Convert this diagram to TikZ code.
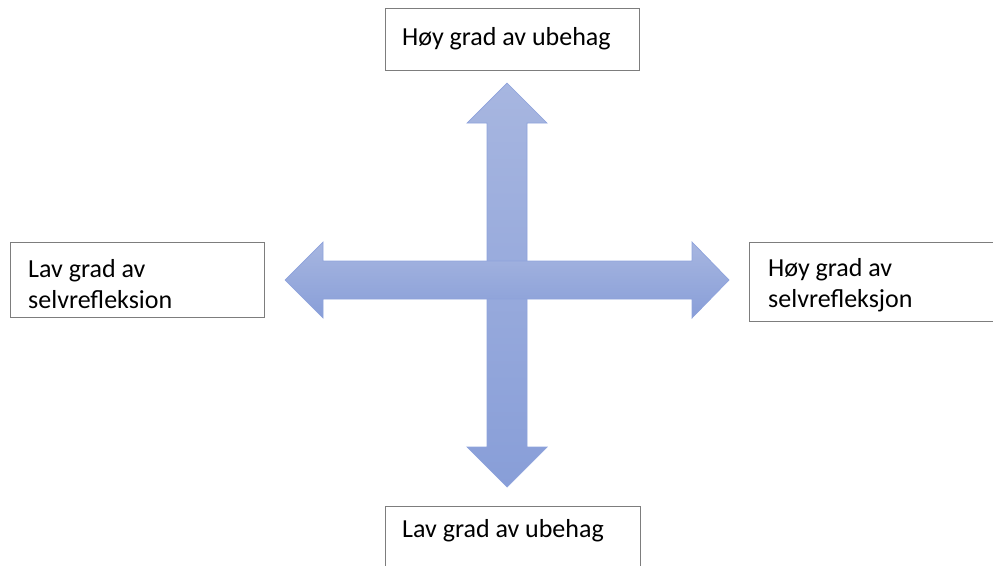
\documentclass[tikz,border=0pt]{standalone}
\usepackage{fontspec}
\setmainfont{Carlito}
\usetikzlibrary{positioning}
\definecolor{arrowtop}{RGB}{167,182,224}
\definecolor{arrowbot}{RGB}{136,158,216}
\definecolor{arrowedge}{RGB}{142,163,220}
\definecolor{boxedge}{RGB}{125,125,125}

\begin{document}
\begin{tikzpicture}[x=1pt, y=-1pt,
        box/.style={draw=boxedge, line width=0.9pt, rectangle, inner sep=0pt, anchor=north west},
        txt/.style={inner sep=0pt, anchor=base west, align=left, font=\fontsize{26}{31}\selectfont},
        fatarrow/.style={top color=arrowtop, bottom color=arrowbot, draw=arrowedge, line width=0.7pt, line join=miter}]
    \useasboundingbox (0,0) rectangle (993,565);
    \clip (0,0) rectangle (993,565);

    % the two crossing arrows
    \draw[fatarrow] (507,83) -- (547,123) -- (527,123) -- (527,447) -- (547,447) -- (507,487)
        -- (467,447) -- (487,447) -- (487,123) -- (467,123) -- cycle;
    \draw[fatarrow] (285,280) -- (323,242) -- (323,261) -- (692,261) -- (692,242) -- (729,280)
        -- (692,318) -- (692,299) -- (323,299) -- (323,318) -- cycle;

    % boxes
    \node[box, minimum width=254pt, minimum height=62pt] (hoyubehag) at (385,8) {};
    \node[box, minimum width=254pt, minimum height=75pt] (lavrefl) at (10,242) {};
    \node[box, minimum width=260pt, minimum height=79pt] (hoyrefl) at (749,242) {};
    \node[box, minimum width=255pt, minimum height=70pt] (lavubehag) at (385,506) {};

    % labels (base = last line)
    \node[txt] (hoyubehagtxt) at ([xshift=17pt, yshift=-37pt]hoyubehag.north west) {Høy grad av ubehag};
    \node[txt] (lavrefltxt) at ([xshift=18pt, yshift=-66pt]lavrefl.north west) {Lav grad av\\selvrefleksion};
    \node[txt] (hoyrefltxt) at ([xshift=19pt, yshift=-65pt]hoyrefl.north west) {Høy grad av\\selvrefleksjon};
    \node[txt] (lavubehagtxt) at ([xshift=17pt, yshift=-31pt]lavubehag.north west) {Lav grad av ubehag};
\end{tikzpicture}
\end{document}
